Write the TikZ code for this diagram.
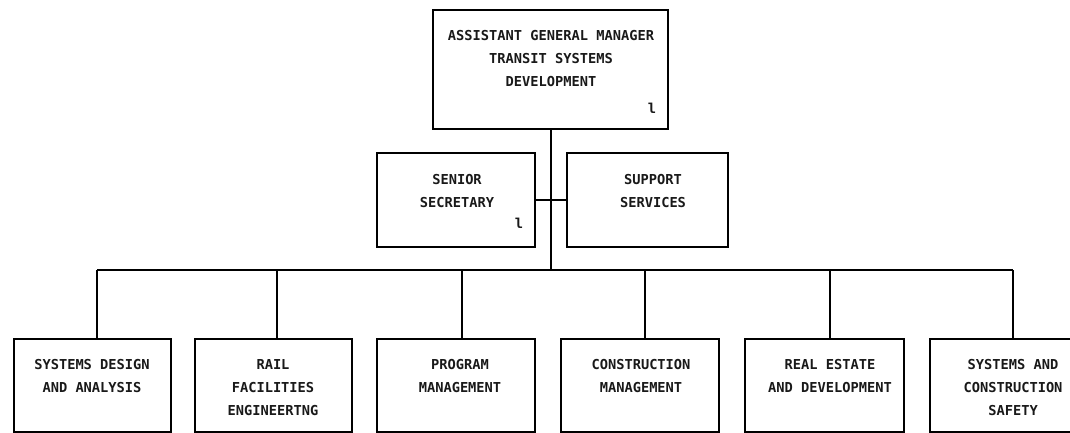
\documentclass[tikz,border=0pt]{standalone}
\usepackage{fontspec}
\setmonofont{DejaVu Sans Mono}
\begin{document}
\begin{tikzpicture}[x=1pt,y=-1pt,
  box/.style={draw=black,line width=1.3pt,minimum width=#1,inner sep=0pt,outer sep=0pt},
  lbl/.style={font=\ttfamily\bfseries\fontsize{13.7}{23}\selectfont,align=center,inner sep=0pt,text=black!90},
  wire/.style={draw=black,line width=1.3pt}]
\useasboundingbox (0,0) rectangle (1070,433);
\clip (0,0) rectangle (1070,433);
% top
\node[box=235pt,minimum height=119pt] (top) at (550.5,69.5) {};
\node[lbl] (toptxt) at (551,59) {ASSISTANT GENERAL MANAGER\\TRANSIT SYSTEMS\\DEVELOPMENT};
\node[lbl] (topl) at (652,108) {l};
% second row
\node[box=158pt,minimum height=94pt] (sec) at (456,200) {};
\node[lbl] (sectxt) at (457,191) {SENIOR\\SECRETARY};
\node[lbl] (secl) at (519,223) {l};
\node[box=161pt,minimum height=94pt] (sup) at (647.5,200) {};
\node[lbl] (suptxt) at (653,191) {SUPPORT\\SERVICES};
% bottom row
\node[box=157pt,minimum height=93pt] (b1) at (92.5,385.5) {};
\node[box=157pt,minimum height=93pt] (b2) at (273.5,385.5) {};
\node[box=158pt,minimum height=93pt] (b3) at (456,385.5) {};
\node[box=158pt,minimum height=93pt] (b4) at (640,385.5) {};
\node[box=159pt,minimum height=93pt] (b5) at (824.5,385.5) {};
\node[box=160pt,minimum height=93pt] (b6) at (1010,385.5) {};
\node[lbl] (t1) at (92,376) {SYSTEMS DESIGN\\AND ANALYSIS};
\node[lbl] (t2) at (273,387.5) {RAIL\\FACILITIES\\ENGINEERTNG};
\node[lbl] (t3) at (460,376) {PROGRAM\\MANAGEMENT};
\node[lbl] (t4) at (641,376) {CONSTRUCTION\\MANAGEMENT};
\node[lbl] (t5) at (830,376) {REAL ESTATE\\AND DEVELOPMENT};
\node[lbl] (t6) at (1013,387.5) {SYSTEMS AND\\CONSTRUCTION\\SAFETY};
% bus
\coordinate (trunk) at (551,270);
\coordinate (d1) at (97,270);
\coordinate (d2) at (277,270);
\coordinate (d3) at (462,270);
\coordinate (d4) at (645,270);
\coordinate (d5) at (830,270);
\coordinate (d6) at (1013,270);
\draw[wire] (top.south -| trunk) -- (trunk);
\draw[wire] (sec.east) -- (sup.west);
\draw[wire] (d1) -- (d6);
\foreach \i in {1,...,6} {\draw[wire] (d\i) -- (b\i.north -| d\i);}
\end{tikzpicture}
\end{document}
